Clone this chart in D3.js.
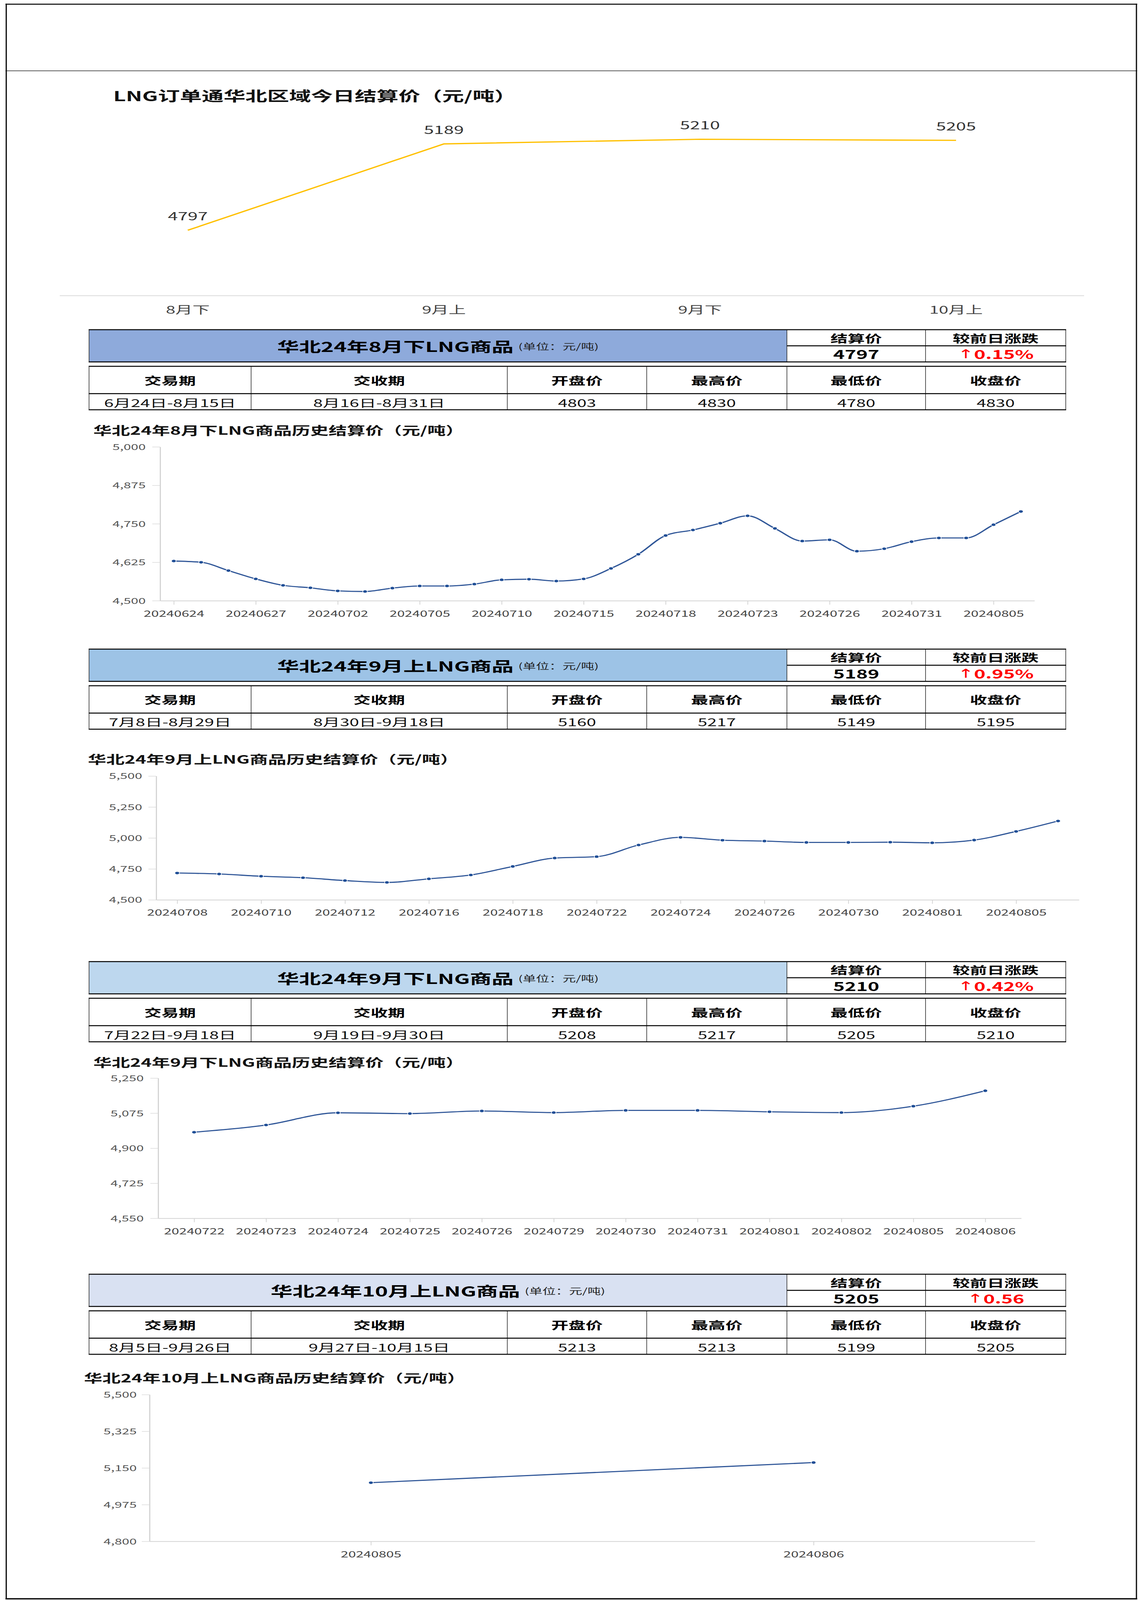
<!DOCTYPE html>
<html><head><meta charset="utf-8">
<script src="https://cdn.jsdelivr.net/npm/d3@7/dist/d3.min.js"></script>
<style>html,body{margin:0;padding:0;background:#fff;overflow:hidden}svg{display:block}</style>
</head><body>
<svg id="c"></svg>
<script>
// ---------------- DATA ----------------
const topTitle = "LNG订单通华北区域今日结算价（元/吨）";
const topCategories = ["8月下", "9月上", "9月下", "10月上"];
const topValues = [4797, 5189, 5210, 5205];

const tableTitles = ["华北24年8月下LNG商品", "华北24年9月上LNG商品", "华北24年9月下LNG商品", "华北24年10月上LNG商品"];
const tableUnit = "(单位：元/吨)";
const settleLabel = "结算价";
const changeLabel = "较前日涨跌";
const settlePrices = [4797, 5189, 5210, 5205];
const changes = ["0.15%", "0.95%", "0.42%", "0.56"];
const headerLabels = ["交易期", "交收期", "开盘价", "最高价", "最低价", "收盘价"];
const tradePeriods = ["6月24日-8月15日", "7月8日-8月29日", "7月22日-9月18日", "8月5日-9月26日"];
const deliveryPeriods = ["8月16日-8月31日", "8月30日-9月18日", "9月19日-9月30日", "9月27日-10月15日"];
const openPrices = [4803, 5160, 5208, 5213];
const highPrices = [4830, 5217, 5217, 5213];
const lowPrices = [4780, 5149, 5205, 5199];
const closePrices = [4830, 5195, 5210, 5205];

const historyTitles = ["华北24年8月下LNG商品历史结算价（元/吨）", "华北24年9月上LNG商品历史结算价（元/吨）", "华北24年9月下LNG商品历史结算价（元/吨）", "华北24年10月上LNG商品历史结算价（元/吨）"];

const augDates = ["20240624","20240625","20240626","20240627","20240628","20240701","20240702","20240703","20240704","20240705","20240708","20240709","20240710","20240711","20240712","20240715","20240716","20240717","20240718","20240719","20240722","20240723","20240724","20240725","20240726","20240729","20240730","20240731","20240801","20240802","20240805","20240806"];
const augValues = [4629,4625,4598,4571,4550,4542,4532,4530,4541,4548,4548,4554,4568,4570,4564,4571,4605,4651,4712,4730,4752,4776,4735,4694,4698,4661,4669,4692,4704,4704,4747,4790];
const augTicks = [4500, 4625, 4750, 4875, 5000];

const sep1Dates = ["20240708","20240709","20240710","20240711","20240712","20240715","20240716","20240717","20240718","20240719","20240722","20240723","20240724","20240725","20240726","20240729","20240730","20240731","20240801","20240802","20240805","20240806"];
const sep1Values = [4717,4709,4691,4679,4656,4641,4670,4701,4770,4838,4849,4943,5005,4982,4975,4964,4964,4966,4961,4983,5053,5137];
const sep1Ticks = [4500, 4750, 5000, 5250, 5500];

const sep2Dates = ["20240722","20240723","20240724","20240725","20240726","20240729","20240730","20240731","20240801","20240802","20240805","20240806"];
const sep2Values = [4980,5016,5077,5073,5086,5078,5089,5089,5082,5078,5110,5187];
const sep2Ticks = [4550, 4725, 4900, 5075, 5250];

const oct1Dates = ["20240805", "20240806"];
const oct1Values = [5080, 5176];
const oct1Ticks = [4800, 4975, 5150, 5325, 5500];

// ---------------- LAYOUT / STYLE ----------------
const FONT = "'Noto Sans CJK SC','Noto Sans',sans-serif";
const W = 2914, H = 6552;
const vw = window.innerWidth || W, vh = window.innerHeight || H;
const svg = d3.select("#c").attr("font-family", FONT)
  .attr("viewBox", `0 0 ${W} ${H}`).attr("preserveAspectRatio", "none")
  .attr("width", vw).attr("height", vh);
svg.append("rect").attr("width", W).attr("height", H).attr("fill", "#fff");

function hline(x1, x2, y, w, c) {
  svg.append("line").attr("x1", x1).attr("x2", x2).attr("y1", y).attr("y2", y)
    .attr("stroke", c || "#000").attr("stroke-width", w);
}
function vline(x, y1, y2, w, c) {
  svg.append("line").attr("x1", x).attr("x2", x).attr("y1", y1).attr("y2", y2)
    .attr("stroke", c || "#000").attr("stroke-width", w);
}
hline(14, 2912, 17, 4);
hline(14, 2912, 6547, 5);
vline(16, 15, 6549, 3);
vline(2910, 15, 6549, 3);
hline(14, 2912, 290, 2);

// ---------------- TOP CHART ----------------
(function () {
  const x = d3.scalePoint().domain(topCategories).range([153, 2776]).padding(0.5);
  const y = d3.scaleLinear().domain([4500, 5300]).range([1211, 489]);
  svg.append("text").attr("x", 290).attr("y", 390).attr("dominant-baseline", "central")
    .attr("font-size", 56).attr("font-weight", "bold").attr("fill", "#111").text(topTitle);
  hline(153, 2776, y(4500), 3, "#dcdcdc");
  const line = d3.line().x((d, i) => x(topCategories[i])).y(d => y(d));
  svg.append("path").datum(topValues).attr("d", line).attr("fill", "none")
    .attr("stroke", "#FFC000").attr("stroke-width", 5).attr("stroke-linejoin", "round");
  svg.selectAll(".toplbl").data(topValues).enter().append("text")
    .attr("x", (d, i) => x(topCategories[i])).attr("y", d => y(d) - 61)
    .attr("text-anchor", "middle").attr("dominant-baseline", "central")
    .attr("font-size", 46).attr("fill", "#333").text(d => d);
  svg.selectAll(".topx").data(topCategories).enter().append("text")
    .attr("x", d => x(d)).attr("y", 1265).attr("text-anchor", "middle")
    .attr("dominant-baseline", "central").attr("font-size", 44).attr("fill", "#444").text(d => d);
})();

// ---------------- TABLES ----------------
const tableTops = [1350, 2658, 3938, 5218];
const tableFills = ["#8EAADB", "#9DC3E6", "#BDD7EE", "#D9E1F2"];
const cols = [228, 643, 1299, 1656, 2015, 2370, 2729];

function drawTable(i) {
  const top = tableTops[i];
  const hb = top + 132, mid = top + 66;
  svg.append("rect").attr("x", cols[0]).attr("y", top).attr("width", cols[4] - cols[0])
    .attr("height", 132).attr("fill", tableFills[i]);
  [cols[0], cols[4], cols[5], cols[6]].forEach(cx => vline(cx, top, hb, 1.5, "#222"));
  hline(cols[0] - 1, cols[6] + 1, top, 4);
  hline(cols[4], cols[6] + 1, mid, 4);
  hline(cols[0] - 1, cols[6] + 1, hb, 4);
  const t = svg.append("text").attr("x", (cols[0] + cols[4]) / 2).attr("y", mid)
    .attr("text-anchor", "middle").attr("dominant-baseline", "central").attr("fill", "#000");
  t.append("tspan").attr("font-size", 56).attr("font-weight", "bold").text(tableTitles[i]);
  t.append("tspan").attr("font-size", 34).attr("fill", "#222").attr("dx", 12).text(tableUnit);
  const c1 = (cols[4] + cols[5]) / 2, c2 = (cols[5] + cols[6]) / 2;
  [[settleLabel, c1], [changeLabel, c2]].forEach(([s, cx]) => {
    svg.append("text").attr("x", cx).attr("y", top + 33).attr("text-anchor", "middle")
      .attr("dominant-baseline", "central").attr("font-size", 44).attr("font-weight", "bold").text(s);
  });
  svg.append("text").attr("x", c1).attr("y", top + 99).attr("text-anchor", "middle")
    .attr("dominant-baseline", "central").attr("font-size", 50).attr("font-weight", "bold").text(settlePrices[i]);
  const ch = svg.append("text").attr("x", c2).attr("y", top + 99).attr("text-anchor", "middle")
    .attr("dominant-baseline", "central").attr("fill", "#FF0000");
  ch.append("tspan").attr("font-size", 50).attr("font-family", "'DejaVu Sans',sans-serif").attr("font-weight", "normal").text("↑");
  ch.append("tspan").attr("font-size", 50).attr("font-weight", "bold").text(changes[i]);

  const lt = top + 150, ls = top + 262, lb = top + 328;
  cols.forEach(cx => vline(cx, lt, lb, 1.5, "#222"));
  hline(cols[0] - 1, cols[6] + 1, lt, 4);
  hline(cols[0] - 1, cols[6] + 1, ls, 4);
  hline(cols[0] - 1, cols[6] + 1, lb, 4);
  const vals = [tradePeriods[i], deliveryPeriods[i], openPrices[i], highPrices[i], lowPrices[i], closePrices[i]];
  headerLabels.forEach((h, k) => {
    const cx = (cols[k] + cols[k + 1]) / 2;
    svg.append("text").attr("x", cx).attr("y", (lt + ls) / 2).attr("text-anchor", "middle")
      .attr("dominant-baseline", "central").attr("font-size", 44).attr("font-weight", "bold").text(h);
    svg.append("text").attr("x", cx).attr("y", (ls + lb) / 2 + 2).attr("text-anchor", "middle")
      .attr("dominant-baseline", "central").attr("font-size", 44).attr("fill", "#111").text(vals[k]);
  });
}
[0, 1, 2, 3].forEach(drawTable);

// ---------------- HISTORY CHARTS ----------------
const histLayouts = [
  { dates: augDates, values: augValues, ticks: augTicks, every: 3, xr: [410, 2649], yr: [2460, 1830], tx: 239, ty: 1760, lblGap: 37 },
  { dates: sep1Dates, values: sep1Values, ticks: sep1Ticks, every: 2, xr: [400, 2763], yr: [3685, 3178], tx: 225, ty: 3107, lblGap: 36 },
  { dates: sep2Dates, values: sep2Values, ticks: sep2Ticks, every: 1, xr: [405, 2615], yr: [4989, 4415], tx: 239, ty: 4348, lblGap: 37 },
  { dates: oct1Dates, values: oct1Values, ticks: oct1Ticks, every: 1, xr: [383, 2650], yr: [6312, 5711], tx: 215, ty: 5640, lblGap: 33 }
];

function drawHistory(cfg, k) {
  const x = d3.scalePoint().domain(cfg.dates).range(cfg.xr).padding(0.5);
  const y = d3.scaleLinear().domain([cfg.ticks[0], cfg.ticks[cfg.ticks.length - 1]]).range(cfg.yr);
  const g = svg.append("g");
  g.append("text").attr("x", cfg.tx).attr("y", cfg.ty).attr("dominant-baseline", "central")
    .attr("font-size", 47).attr("font-weight", "bold").attr("fill", "#111").text(historyTitles[k]);

  const ya = d3.axisLeft(y).tickValues(cfg.ticks).tickFormat(d3.format(",")).tickSize(20).tickSizeOuter(0);
  const yg = g.append("g").attr("transform", `translate(${cfg.xr[0]},0)`).call(ya);
  yg.select(".domain").attr("stroke", "#d4d4d4").attr("stroke-width", 3);
  yg.selectAll(".tick line").attr("stroke", "#d4d4d4").attr("stroke-width", 2);
  yg.selectAll(".tick text").attr("x", -cfg.lblGap).attr("dy", "0.35em").attr("fill", "#555")
    .attr("font-size", 34).attr("font-family", FONT);

  const shown = cfg.dates.filter((d, i) => i % cfg.every === 0);
  const xa = d3.axisBottom(x).tickValues(shown).tickSize(16).tickSizeOuter(0);
  const xg = g.append("g").attr("transform", `translate(0,${cfg.yr[0]})`).call(xa);
  xg.select(".domain").attr("stroke", "#d4d4d4").attr("stroke-width", 3);
  xg.selectAll(".tick line").attr("stroke", "#d4d4d4").attr("stroke-width", 2);
  xg.selectAll(".tick text").attr("y", 53).attr("dy", "0.35em").attr("fill", "#444")
    .attr("font-size", 35).attr("font-family", FONT);

  const line = d3.line().x((d, i) => x(cfg.dates[i])).y(d => y(d)).curve(d3.curveMonotoneX);
  g.append("path").datum(cfg.values).attr("d", line).attr("fill", "none")
    .attr("stroke", "#fff").attr("stroke-width", 9).attr("stroke-opacity", 0.8);
  g.append("path").datum(cfg.values).attr("d", line).attr("fill", "none")
    .attr("stroke", "#2E5597").attr("stroke-width", 4.5).attr("stroke-linejoin", "round");
  g.selectAll(".pt").data(cfg.values).enter().append("circle")
    .attr("cx", (d, i) => x(cfg.dates[i])).attr("cy", d => y(d)).attr("r", 6)
    .attr("fill", "#1F4E96").attr("stroke", "#fff").attr("stroke-width", 1.5);
}
histLayouts.forEach(drawHistory);
</script>
</body></html>
